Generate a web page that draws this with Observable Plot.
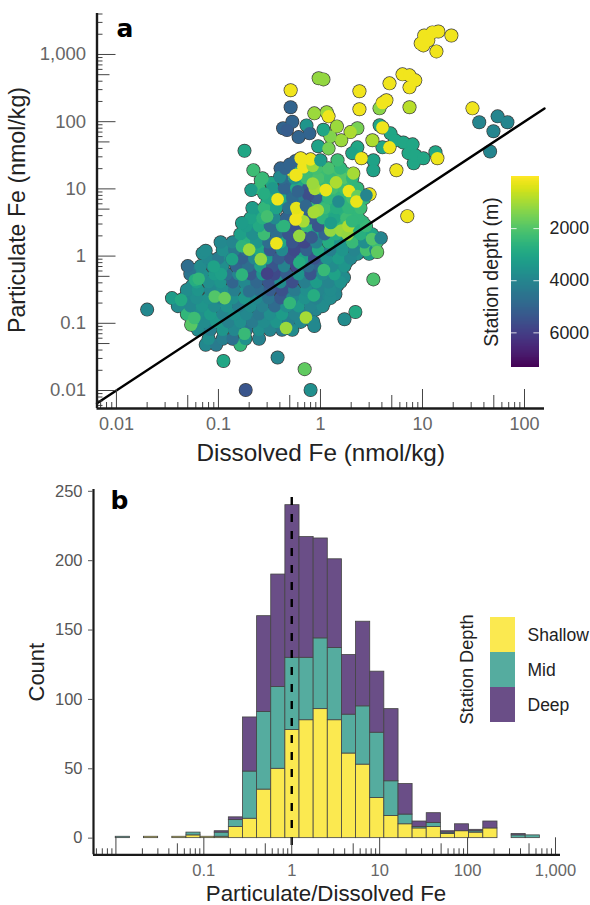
<!DOCTYPE html>
<html>
<head>
<meta charset="utf-8">
<script src="https://cdn.jsdelivr.net/npm/d3@7"></script>
<script src="https://cdn.jsdelivr.net/npm/@observablehq/plot@0.6"></script>
<style>
html,body{margin:0;padding:0;background:#fff;overflow:hidden}
#page{position:relative;width:590px;height:905px;overflow:hidden}
#page svg{display:block;position:absolute;background:transparent}
</style>
</head>
<body>
<div id="page"></div>
<script>
// Panel a: [dissolved Fe, particulate Fe, station depth].
const fanFill = [
[.07,.118,3800],[.1,.118,3700],[.15,.118,4000],[.22,.118,3900],[.33,.118,3800],[.5,.118,3900],[.75,.118,4100],
[.05,.16,3700],[.08,.16,3800],[.12,.16,3600],[.18,.16,3900],[.27,.16,4000],[.4,.16,3800],[.6,.16,3900],[.9,.16,4000],
[.042,.21,3800],[.07,.21,3700],[.11,.21,3800],[.17,.21,3700],[.26,.21,4200],[.38,.21,4600],[.6,.21,4000],[.85,.21,3900],[1.1,.21,3900],
[.055,.27,3700],[.085,.27,3800],[.13,.27,3700],[.2,.27,4100],[.3,.27,4800],[.45,.27,5000],[.65,.27,4100],[1,.27,3900],[1.4,.27,3900],
[.055,.36,3800],[.09,.36,3700],[.14,.36,4000],[.21,.36,4400],[.34,.36,5200],[.5,.36,5200],[.78,.36,4300],[1.1,.36,3900],[1.45,.36,3900],
[.06,.48,3600],[.095,.48,3700],[.15,.48,4300],[.23,.48,4800],[.37,.48,5400],[.6,.48,5300],[.9,.48,4300],[1.3,.48,3900],[1.7,.48,3800],
[.06,.62,4200],[.1,.62,3800],[.17,.62,4300],[.25,.62,4800],[.4,.62,5500],[.65,.62,5200],[.95,.62,4700],[1.45,.62,3800],
[.09,.82,3800],[.16,.82,4300],[.24,.82,4500],[.36,.82,5300],[.55,.82,5400],[.8,.82,5200],[1.2,.82,4000],[1.8,.82,3700],
[.12,1.08,3900],[.2,1.08,4300],[.3,1.08,5000],[.48,1.08,5500],[.65,1.08,5500],[1.05,1.08,4200],[1.5,1.08,3600],[2.3,1.08,3700],[3,1.08,3300],
[.125,1.42,3800],[.2,1.42,4000],[.28,1.42,4500],[.45,1.42,5200],[.62,1.42,5600],[.9,1.42,4800],[1.4,1.42,3400],[2.2,1.42,2900],[3.2,1.42,2900],
[.18,1.85,3400],[.25,1.85,3600],[.4,1.85,4700],[.58,1.85,5400],[.95,1.85,4500],[1.3,1.85,3200],[1.9,1.85,2800],[2.9,1.85,3300],
[.2,2.45,3400],[.29,2.45,3500],[.48,2.45,4800],[.65,2.45,5400],[1.05,2.45,4000],[1.5,2.45,3000],[2.5,2.45,2700],
[.23,3.2,3300],[.32,3.2,3500],[.5,3.2,4600],[.7,3.2,5200],[1.1,3.2,3000],[1.6,3.2,2800],[2.6,3.2,2600],
[.24,4.4,3300],[.33,4.4,3200],[.55,4.4,4600],[.75,4.4,5000],[1.2,4.4,2800],[1.7,4.4,2700],[2.2,4.4,2500],
[.3,6.2,3000],[.45,6.2,3700],[.6,6.2,4600],[.95,6.2,2900],[1.4,6.2,2600],[1.8,6.2,2500],[2.4,6.2,2500],
[.36,8.7,3100],[.5,8.7,4800],[.7,8.7,4500],[1.1,8.7,2500],[1.5,8.7,2400],[2,8.7,2400],
[.33,12.2,3000],[.48,12.2,4800],[.65,12.2,3000],[.85,12.2,2500],[1.1,12.2,2300],[1.5,12.2,2300],[1.9,12.2,2400],
[.47,17,200],[.6,17,2400],[.8,17,2300],[1.05,17,2300],[1.4,17,2200],[1.75,17,2300]
];
const fanBottom = [
[.075,.048,3900],[.095,.048,4300],[.164,.048,2500],[.08,.059,3700],[.11,.059,4200],[.138,.059,4600],[.184,.059,3600],[.25,.059,4100],
[.063,.08,3800],[.083,.08,4200],[.11,.08,3500],[.143,.08,3900],[.187,.08,4500],[.25,.08,3700],[.32,.08,4000],[.42,.08,4300],[.53,.08,3800],
[.056,.105,2800],[.073,.105,3800],[.095,.105,3400],[.125,.105,4100],[.164,.105,3700],[.215,.105,4300],[.28,.105,3800],[.37,.105,3500],[.485,.105,4200],[.64,.105,3900],[.85,.105,3900],
[.049,.137,2500],[.063,.137,3700],[.083,.137,3300],[.11,.137,4000],[.143,.137,3600],[.187,.137,3900],[.25,.137,4400],[.32,.137,3700],[.42,.137,3300],[.555,.137,4000],[.73,.137,4300],
[.04,.18,3800],[.053,.18,3900],[.069,.18,3500],[.091,.18,3800],[.12,.18,3600],[.157,.18,4200],[.206,.18,3800],[.27,.18,4100],[.355,.18,4800],[.465,.18,3700],[.61,.18,3400],[.8,.18,4000],[1.05,.18,3800],
[.035,.237,3300],[.046,.237,3900],[.061,.237,3700],[.08,.237,3600],[.105,.237,4100],[.138,.237,3700],[.18,.237,3400],[.236,.237,3900],[.31,.237,4500],[.406,.237,5300],[.53,.237,3900],[.7,.237,3600],[.91,.237,4100],[1.25,.237,3800]
];
const fanMiddle = [
[.049,.313,3800],[.063,.313,3500],[.083,.313,3900],[.11,.313,3700],[.143,.313,4200],[.187,.313,3600],[.25,.313,4700],[.32,.313,5200],[.42,.313,5500],[.555,.313,4300],[.73,.313,3700],[.95,.313,4000],[1.25,.313,3800],
[.061,.41,3200],[.08,.41,3700],[.105,.41,3500],[.138,.41,5000],[.18,.41,3900],[.236,.41,4900],[.31,.41,5400],[.406,.41,3800],[.53,.41,5600],[.7,.41,4200],[.91,.41,3300],[1.2,.41,4000],[1.57,.41,3600],
[.053,.54,4500],[.069,.54,3700],[.091,.54,3300],[.12,.54,4600],[.157,.54,4000],[.206,.54,5300],[.27,.54,3500],[.355,.54,5700],[.465,.54,5200],[.61,.54,3500],[.8,.54,5400],[1.05,.54,3800],[1.37,.54,3100],
[.05,.71,4700],[.067,.71,3800],[.087,.71,4100],[.11,.71,3700],[.15,.71,5000],[.197,.71,4700],[.258,.71,3200],[.34,.71,5400],[.44,.71,4100],[.58,.71,5800],[.76,.71,4700],[1,.71,5000],[1.3,.71,3800],[1.72,.71,3500],
[.078,.93,3900],[.1,.93,4300],[.131,.93,3600],[.17,.93,5100],[.225,.93,3900],[.296,.93,3300],[.39,.93,5200],[.51,.93,5600],[.665,.93,3100],[.87,.93,5500],[1.15,.93,3600],[1.5,.93,3300],[1.97,.93,3900],
[.07,1.1,3800],[.075,1.2,3800],[.11,1.23,3700],[.143,1.23,4400],[.187,1.23,4800],[.25,1.23,3000],[.32,1.23,5300],[.42,1.23,3900],[.555,1.23,5700],[.73,1.23,5100],[.95,1.23,2900],[1.25,1.23,4200],[1.65,1.23,3500],[2.15,1.23,4000],[2.8,1.23,2200],[3.46,1.23,4000],
[.105,1.61,3900],[.138,1.61,4000],[.18,1.61,2700],[.236,1.61,3500],[.31,1.61,4700],[.406,1.61,3000],[.53,1.61,5400],[.7,1.61,5800],[.91,1.61,4100],[1.2,1.61,2800],[1.57,1.61,3500],[2.05,1.61,2400],[2.7,1.61,3700],[3.55,1.61,2300]
];
const fanTop = [
[.164,2.12,3200],[.215,2.12,3700],[.28,2.12,2300],[.37,2.12,4700],[.485,2.12,5400],[.64,2.12,5800],[.84,2.12,3200],[1.1,2.12,5000],[1.43,2.12,2800],[1.88,2.12,3400],[2.47,2.12,2700],[3.2,2.12,3000],
[.187,2.8,3300],[.25,2.8,2900],[.32,2.8,4800],[.42,2.8,2700],[.555,2.8,5500],[.73,2.8,2500],[.95,2.8,5400],[1.25,2.8,2900],[1.65,2.8,2500],[2.15,2.8,2700],[2.8,2.8,2400],
[.206,3.67,3100],[.27,3.67,2700],[.355,3.67,3900],[.465,3.67,5000],[.61,3.67,2600],[.8,3.67,5300],[1.05,3.67,2600],[1.37,3.67,3000],[1.8,3.67,2300],[2.36,3.67,2500],
[.215,5.2,3300],[.28,5.2,2500],[.37,5.2,3100],[.485,5.2,4600],[.64,5.2,5000],[.84,5.2,2500],[1.1,5.2,2400],[1.43,5.2,2800],[1.88,5.2,2500],[2.47,5.2,2300],
[.31,7.3,2900],[.406,7.3,3000],[.53,7.3,4800],[.7,7.3,4300],[.91,7.3,5200],[1.2,7.3,2500],[1.57,7.3,2500],[2.05,7.3,2200],[2.7,7.3,2500],
[.25,10.2,2400],[.34,10.2,3400],[.44,10.2,5000],[.58,10.2,2900],[.76,10.2,5300],[1,10.2,2400],[1.3,10.2,2200],[1.72,10.2,2300],[2.3,10.2,2500],
[.27,14.4,2400],[.42,14.4,4800],[.555,14.4,3600],[.73,14.4,2300],[.95,14.4,2100],[1.25,14.4,2400],[1.65,14.4,2000],[2.05,14.4,2500],
[.406,20.2,5000],[.53,20.2,2700],[.7,20.2,2300],[.91,20.2,2200],[1.2,20.2,2100],[1.57,20.2,2500],
[.22,19,2300],[.26,13.5,2400],[.21,9.6,3300],[.28,8.5,2800],[.17,3.1,3300],[.4,15,3900],[.57,26,5000],[.45,20,5000],[.5,23,5000]
];
const fanAccents = [
[.043,.222,2900],[.054,.095,1900],[.058,.12,2300],[.059,.44,2800],[.092,.25,2000],[.115,.237,1700],[.106,.54,3200],[.17,.53,2600],[.135,.9,5300],[.17,1.4,2600],[.2,1.25,1100],[.136,.9,3100],
[.064,.46,2500],[.09,.7,3100],[.2,.3,4600],[.26,.9,1200],[.18,.07,2400],[.46,.085,1100],[.72,.122,1000],[.5,.2,2500],[.3,.55,5900],[.62,.8,2800],[1.08,.62,2400],[.86,.26,2800],
[.37,1.55,200],[.44,2.8,2600],[.3,3.9,2200],[.62,2,1200],[.68,3.3,1000],[.82,1.9,5300],[.94,4.8,1100],[1.25,2.4,1200],[1.6,2.4,1100],[1.85,2.1,1200],[.57,3.5,200],
[.6,4.6,200],[.38,7,200],[.76,8.2,5600],[.58,5.2,300],[.6,9.2,5000],[.72,5.6,4900],[.88,10,1000],[.86,4.5,1000],[.84,12,1100],[1.13,9.6,250],[1.9,9.3,250],[2.3,7.8,1700],
[1.5,6.5,3800],[1.26,3.1,3300],[1.88,2.8,900],[3.2,1.8,2000],[.58,16,200],[.68,21,200],[.84,22,1100],[1.42,12.5,900],[2.25,6.5,250],[2.04,3.3,2500]
];
const ridge = [
[3.8,88.4,3000],[4.86,67,3000],[5.4,53,3000],[6.5,49,3000],[8,46,3000],[7.3,34,3000],[8.2,24,3000],[8.5,31.7,3000],[10.2,28.5,3000],[13.4,35,3000],[4.05,41.5,3000],[3.3,26.7,3100],[3.3,18.9,3100],[2.3,41.5,3000],[2.05,34,3100],
[2.3,80,1500],[1.97,70,900],[1.6,53,1100],[1.25,60,1400],[1.45,85,1100],[1.15,138,1100],[.87,133,1100],[1.07,76,3000],[.73,88,3500],[.78,67,5000],[.61,59,5000],[.53,100,5000],[.43,80,5000],[.47,75,5200],[.95,43,3100],[1.2,40,1500],[1.2,120,200],
[.64,28.5,200],[.8,27.5,200],[.57,16,200],[1,26.7,3300],[1.47,26.7,2300],[2.1,17,1000],[3.03,8.3,200],[2.82,8.06,4000],[4.05,82,200],[4.75,41.5,200],[14,28.5,200],[2.52,28.5,200],[5.55,18.9,200],[7.1,3.93,200],[3.23,53,900]
];
const isolated = [
[9.6,1460,150],[10.4,1920,150],[12.5,2130,150],[14.3,2200,150],[13.7,1110,150],[19.2,1920,150],[10.2,1365,150],[11.4,1620,150],
[6.37,506,150],[7.46,489,150],[8.5,412,150],[7.46,324,150],[4.75,372,150],[4.43,208,150],[2.41,283,150],[2.41,153,150],[.96,442,1200],[1.07,426,1200],[3.79,158,1300],[4.05,190,150],[7.46,164,800],[.51,293,150],[.51,164,5000],
[30.9,158,150],[36,98,4000],[54.5,120,4000],[68,98,4000],[49.6,72,4000],[46,36,4000],[.18,37,3000],
[.02,.16,3900],[.112,.0275,3000],[.38,.031,4000],[.185,.0102,5400],[.7,.0208,1800],[.8,.0102,3700],[3.3,.45,2100],[2.2,.147,2900],[1.72,.115,3800],[.87,.091,3900],[3.9,1.85,4000],[3.6,1.15,1800]
];
const scatterPoints = [...fanFill, ...fanBottom, ...fanMiddle, ...fanTop, ...fanAccents, ...ridge, ...isolated];
const oneToOne = [.00645, 157];

const depthDomain = [0, 7330];
const depthTicks = [2000, 4000, 6000];

// Panel b
const binEdges = [.00995,.01442,.02087,.03022,.04377,.0634,.0918,.133,.1925,.2787,.4036,.5845,.8465,1.226,1.775,2.57,3.72,5.39,7.81,11.3,16.4,23.7,34.3,49.7,72,104,151,219,317,458,664];
const shallowCounts = [0,0,1,0,1,2,1,1,8,14,35,50,78,85,93,85,61,53,29,16,10,7,8,3,5,4,7,0,0,0];
const midCounts     = [1,0,0,0,0,2,0,3,5,34,56,59,52,45,51,52,28,42,47,25,7,1,3,1,0,1,0,0,2,2];
const deepCounts    = [0,0,0,0,0,0,0,1,2,39,69,81,110,87,72,64,43,61,44,52,22,4,7,1,5,1,5,0,1,0];
const seriesNames = ["Shallow", "Mid", "Deep"];
const seriesColors = ["#FBE950", "#55AC9F", "#6A4E87"];

const decades = [.001,.01,.1,1,10,100,1000];
const multipliers = [1,2,3,4,5,6,7,8,9];
const logTicks = decades.flatMap(d => multipliers.map(m => ({v: +(d*m).toPrecision(3), m})));
const lenOf = m => m === 1 ? 19 : m === 5 ? 13 : 6;
const lenOfB = m => m === 1 ? 17 : m === 5 ? 11 : 6;
const fmt = d => d.toLocaleString("en-US");
const font = "'Liberation Sans', Arial, sans-serif";

// ---------- panel a
const xDomA = [.00645, 157], yDomA = [.0054, 4070];
const hA = 470, mTopA = 13, mBotA = hA - 408, frameA = 408 - 13;
const ticksXA = logTicks.filter(t => t.v >= xDomA[0] && t.v <= xDomA[1]);
const ticksYA = logTicks.filter(t => t.v >= yDomA[0] && t.v <= yDomA[1]);
const frameWA = 544 - 96.5;
const plotA = Plot.plot({
  width: 590, height: hA, marginLeft: 96.5, marginRight: 46, marginTop: mTopA, marginBottom: mBotA,
  style: {fontFamily: font, background: "transparent", overflow: "visible"},
  x: {type: "log", domain: xDomA},
  y: {type: "log", domain: yDomA},
  color: {type: "linear", scheme: "viridis", reverse: true, domain: depthDomain},
  marks: [
    Plot.dot(scatterPoints, {x: d => d[0], y: d => d[1], r: 7, fill: "#3d3d3d"}),
    Plot.dot(scatterPoints, {x: d => d[0], y: d => d[1], r: 6.3, fill: d => d[2]}),
    Plot.line(oneToOne, {x: d => d, y: d => d, stroke: "#000", strokeWidth: 2.4}),
    ...multipliers.map(m => Plot.ruleX(ticksXA.filter(t => t.m === m), {x: "v", stroke: "#444", strokeWidth: 1, insetTop: frameA - lenOf(m)})),
    ...multipliers.map(m => Plot.ruleY(ticksYA.filter(t => t.m === m), {y: "v", stroke: "#444", strokeWidth: 1, insetRight: frameWA - lenOf(m)})),
    Plot.ruleX([xDomA[0]], {stroke: "#1a1a1a", strokeWidth: 2.4}),
    Plot.ruleY([yDomA[0]], {stroke: "#1a1a1a", strokeWidth: 2.4}),
    Plot.axisX({ticks: [.01,.1,1,10,100], tickFormat: fmt, tickSize: 0, tickPadding: 9, label: null, fontSize: 18, color: "#666"}),
    Plot.axisY({ticks: [.01,.1,1,10,100,1000], tickFormat: fmt, tickSize: 0, tickPadding: 11, label: null, fontSize: 18.5, color: "#666"}),
    Plot.text(["Dissolved Fe (nmol/kg)"], {frameAnchor: "bottom", dy: 45, dx: 0, fontSize: 24.3, fill: "#222", lineAnchor: "middle"}),
    Plot.text(["Particulate Fe (nmol/kg)"], {frameAnchor: "left", dx: -79, dy: -1, rotate: -90, textAnchor: "middle", fontSize: 23.2, fill: "#222"}),
    Plot.text(["a"], {frameAnchor: "top-left", dx: 19.5, dy: 15, textAnchor: "start", lineAnchor: "middle", fontFamily: "'DejaVu Sans'", fontWeight: 700, fontSize: 25, fill: "#000"})
  ]
});
plotA.style.left = "0px"; plotA.style.top = "0px";

// ---------- colour bar
const barSteps = d3.range(0, depthDomain[1], 30);
const legendA = Plot.plot({
  width: 120, height: 230, marginLeft: 41, marginRight: 51, marginTop: 16, marginBottom: 23,
  style: {fontFamily: font, background: "transparent", overflow: "visible"},
  x: {domain: [0, 1], axis: null},
  y: {domain: depthDomain, reverse: true},
  color: {type: "linear", scheme: "viridis", reverse: true, domain: depthDomain},
  marks: [
    Plot.rect(barSteps, {x1: 0, x2: 1, y1: d => d, y2: d => Math.min(d + 60, depthDomain[1]), fill: d => d, shapeRendering: "crispEdges"}),
    Plot.ruleY(depthTicks, {x1: 0, x2: .2, stroke: "#fff", strokeOpacity: .8, strokeWidth: 1}),
    Plot.ruleY(depthTicks, {x1: .8, x2: 1, stroke: "#fff", strokeOpacity: .8, strokeWidth: 1}),
    Plot.axisY({anchor: "right", ticks: depthTicks, tickFormat: d => String(d), tickSize: 0, tickPadding: 10, label: null, fontSize: 17.8, color: "#222"}),
    Plot.text(["Station depth (m)"], {frameAnchor: "left", dx: -20, rotate: -90, textAnchor: "middle", fontSize: 19.5, fill: "#222"})
  ]
});
legendA.style.left = "470px"; legendA.style.top = "160px";

// ---------- panel b
const rows = [];
const zeroBins = [];
const perSeries = [shallowCounts, midCounts, deepCounts];
binEdges.slice(0, -1).forEach((edge, k) => {
  let base = 0;
  perSeries.forEach((counts, s) => {
    if (counts[k] > 0) rows.push({x1: edge, x2: binEdges[k + 1], y1: base, y2: base + counts[k], s});
    base += counts[k];
  });
  if (base === 0) zeroBins.push({x1: edge, x2: binEdges[k + 1]});
});
const topB = 470, hB = 435;
const xDomB = [10 ** -2.255, 10 ** 3.057], yDomB = [-12, 251.3];
const ticksXB = logTicks.filter(t => t.v >= xDomB[0] && t.v <= xDomB[1]);
const frameB = 854.3 - 489;
const plotB = Plot.plot({
  width: 590, height: hB, marginLeft: 93, marginRight: 30, marginTop: 489 - topB, marginBottom: hB - (854.3 - topB),
  style: {fontFamily: font, background: "transparent", overflow: "visible"},
  x: {type: "log", domain: xDomB},
  y: {domain: yDomB},
  marks: [
    Plot.rect(zeroBins, {x1: "x1", x2: "x2", y1: 0, y2: 0, stroke: "#ccc", strokeWidth: 1}),
    Plot.rect(rows, {x1: "x1", x2: "x2", y1: "y1", y2: "y2", fill: d => seriesColors[d.s], stroke: "#444", strokeWidth: .8}),
    Plot.ruleX([1], {y1: 245.5, y2: yDomB[0], stroke: "#000", strokeWidth: 2.4, strokeDasharray: "8,9"}),
    ...multipliers.map(m => Plot.ruleX(ticksXB.filter(t => t.m === m), {x: "v", stroke: "#444", strokeWidth: 1, insetTop: frameB - lenOfB(m)})),
    Plot.ruleX([xDomB[0]], {stroke: "#1a1a1a", strokeWidth: 2.2}),
    Plot.ruleY([yDomB[0]], {stroke: "#1a1a1a", strokeWidth: 2.2}),
    Plot.axisX({ticks: [.1,1,10,100,1000], tickFormat: fmt, tickSize: 0, tickPadding: 9, label: null, fontSize: 16.5, color: "#666"}),
    Plot.axisY({ticks: [0,50,100,150,200,250], tickSize: 5, tickPadding: 6, label: null, fontSize: 16.5, color: "#555"}),
    Plot.text(["Particulate/Dissolved Fe"], {frameAnchor: "bottom", dx: -1, dy: 39, fontSize: 22.3, fill: "#222", lineAnchor: "middle"}),
    Plot.text(["Count"], {frameAnchor: "left", dx: -57, rotate: -90, textAnchor: "middle", fontSize: 22, fill: "#222", dy: 0}),
    Plot.text(["b"], {frameAnchor: "top-left", dx: 17, dy: 11, textAnchor: "start", lineAnchor: "middle", fontFamily: "'DejaVu Sans'", fontWeight: 700, fontSize: 25, fill: "#000"})
  ]
});
plotB.style.left = "0px"; plotB.style.top = topB + "px";

// ---------- categorical legend
const legendB = Plot.plot({
  width: 130, height: 130, marginLeft: 30, marginRight: 75, marginTop: 11, marginBottom: 13,
  style: {fontFamily: font, background: "transparent", overflow: "visible"},
  x: {domain: [0, 1], axis: null},
  y: {type: "band", domain: seriesNames, padding: 0, axis: null},
  marks: [
    Plot.cell(seriesNames, {y: d => d, fill: d => seriesColors[seriesNames.indexOf(d)]}),
    Plot.text(seriesNames, {frameAnchor: "right", y: d => d, dx: 12, textAnchor: "start", fontSize: 17.5, fill: "#222"}),
    Plot.text(["Station Depth"], {frameAnchor: "left", dx: -23, rotate: -90, textAnchor: "middle", fontSize: 18.2, fill: "#222"})
  ]
});
legendB.style.left = "460px"; legendB.style.top = "605px";

const page = document.getElementById("page");
[plotA, legendA, plotB, legendB].forEach(n => page.appendChild(n));
</script>
</body>
</html>
